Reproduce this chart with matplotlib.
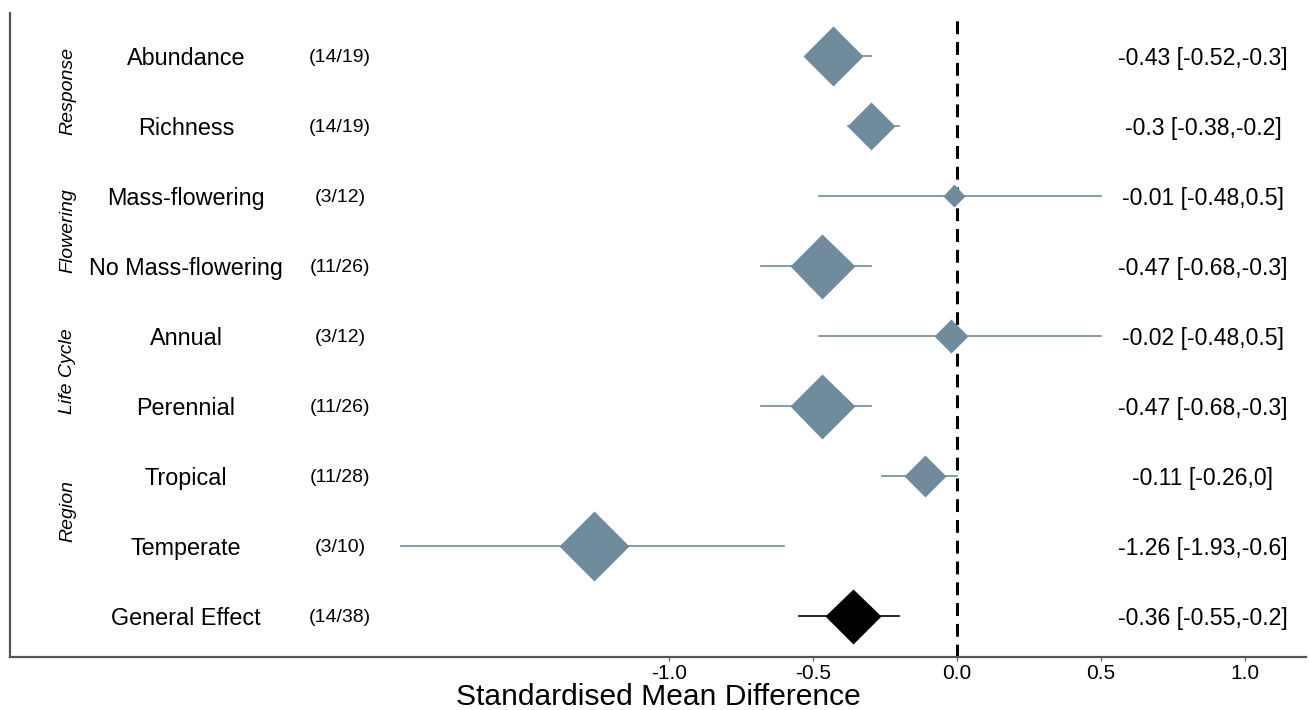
import numpy as np
import matplotlib
matplotlib.use("Agg")
import matplotlib.pyplot as plt

# forest plot data (top row first)
labels = ['Abundance', 'Richness', 'Mass-flowering', 'No Mass-flowering',
          'Annual', 'Perennial', 'Tropical', 'Temperate', 'General Effect']
counts = ['(14/19)', '(14/19)', '(3/12)', '(11/26)', '(3/12)',
          '(11/26)', '(11/28)', '(3/10)', '(14/38)']
est = [-0.43, -0.3, -0.01, -0.47, -0.02, -0.47, -0.11, -1.26, -0.36]
lo = [-0.52, -0.38, -0.48, -0.68, -0.48, -0.68, -0.26, -1.93, -0.55]
hi = [-0.3, -0.2, 0.5, -0.3, 0.5, -0.3, 0, -0.6, -0.2]
# relative diamond size (weight)
weight = [60, 48, 23, 65, 34, 65, 43, 70, 55]
groups = ['Response', 'Flowering', 'Life Cycle', 'Region']
xticks = [-1.0, -0.5, 0.0, 0.5, 1.0]

plt.rcParams['font.family'] = ['Liberation Sans', 'DejaVu Sans']
slate = '#708b9b'

fig = plt.figure(figsize=(13.09, 7.10), dpi=100)
ax = fig.add_axes([10/1309, 53/710, 1296/1309, 644/710])

n = len(labels)
ypos = np.arange(n, 0, -1)
cols = [slate]*(n-1) + ['black']

ax.axvline(0, color='black', lw=2.2, ls=(0, (4.2, 2.6)), zorder=1)

for y, e, l, h, w, c in zip(ypos, est, lo, hi, weight, cols):
    ax.plot([l, h], [y, y], color=c, lw=1.2, zorder=2)
    ms = w*0.72/np.sqrt(2)
    ax.plot(e, y, marker='D', ms=ms, color=c, mec='none', zorder=3)

for y, lab, cnt, e, l, h in zip(ypos, labels, counts, est, lo, hi):
    ax.text(-2.677, y, lab, ha='center', va='center_baseline', fontsize=16.8)
    ax.text(-2.142, y, cnt, ha='center', va='center_baseline', fontsize=14)
    ax.text(0.854, y, f"{e:g} [{l:g},{h:g}]", ha='center',
            va='center_baseline', fontsize=16.6)

for i, g in enumerate(groups):
    yc = (ypos[2*i] + ypos[2*i+1]) / 2
    ax.text(-3.087, yc, g, ha='center', va='center', rotation=90,
            fontsize=14, style='italic')

ax.set_xlim(-3.288, 1.212)
ax.set_ylim(0.41, 9.61)
ax.set_yticks([])
ax.set_xticks(xticks)
ax.set_xticklabels([f"{t:.1f}" for t in xticks],
                   family=['Liberation Sans Narrow', 'Liberation Sans'], fontsize=15)
ax.tick_params(axis='x', length=3, width=1, color='#666666', pad=2)
ax.set_xlabel('Standardised Mean Difference', fontsize=21.6, labelpad=0)

for s in ['top', 'right']:
    ax.spines[s].set_visible(False)
for s in ['left', 'bottom']:
    ax.spines[s].set_color('#555555')
    ax.spines[s].set_linewidth(1.6)

fig.savefig('out.png', dpi=100)
